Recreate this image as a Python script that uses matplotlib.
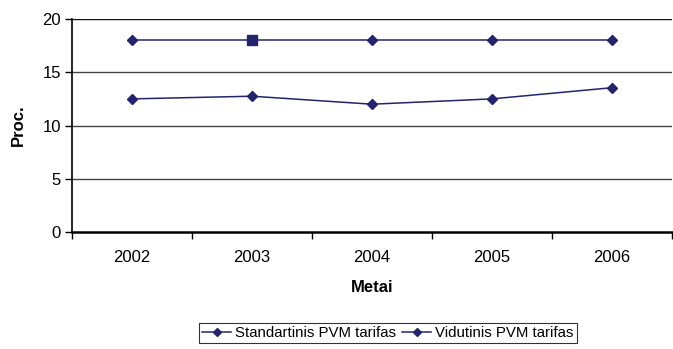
import matplotlib

matplotlib.use("Agg")
import matplotlib.pyplot as plt
import numpy as np

years = ["2002", "2003", "2004", "2005", "2006"]
standartinis = [18, 18, 18, 18, 18]
vidutinis = [12.5, 12.75, 12.0, 12.5, 13.55]
y_ticks = [0, 5, 10, 15, 20]

navy = "#24246e"

plt.rcParams["font.family"] = ["Liberation Sans", "DejaVu Sans"]

fig = plt.figure(figsize=(6.73, 3.49), dpi=100)
ax = fig.add_axes([72 / 673, 1 - 232 / 349, 600 / 673, 213 / 349])

x = np.arange(len(years))
ax.plot(x, standartinis, color=navy, lw=1.1, marker="D", ms=5.5,
        label="Standartinis PVM tarifas", zorder=3)
# the 2003 point of the standard rate is drawn as a square
ax.plot(x[1], standartinis[1], color=navy, marker="s", ms=7, lw=0, zorder=4)
ax.plot(x, vidutinis, color=navy, lw=1.1, marker="D", ms=5.5,
        label="Vidutinis PVM tarifas", zorder=3)

ax.set_xlim(-0.5, len(years) - 0.5)
ax.set_ylim(0, 20)
ax.set_yticks(y_ticks)
ax.set_yticklabels([str(v) for v in y_ticks], fontsize=12)
ax.set_xticks(x)
ax.set_xticklabels(years, fontsize=12)
ax.set_xticks(np.arange(-0.5, len(years)), minor=True)
ax.tick_params(axis="x", which="major", length=0, pad=13)
ax.tick_params(axis="x", which="minor", length=5, width=1, direction="out")
ax.tick_params(axis="y", length=5, width=1, direction="out", pad=3)

for v in y_ticks[1:]:
    ax.axhline(v, color="#444444" if v < 20 else "#111111", lw=1, zorder=1)

for side in ("top", "right"):
    ax.spines[side].set_visible(False)
ax.spines["left"].set_linewidth(1.2)
ax.spines["bottom"].set_linewidth(1.8)

ax.set_ylabel("Proc.", fontsize=12, fontweight="bold", labelpad=12)
ax.set_xlabel("Metai", fontsize=12, fontweight="bold", labelpad=11)

leg = fig.legend(loc="center", bbox_to_anchor=(388 / 673, 1 - 333 / 349),
                 ncol=2, fontsize=10.8, frameon=True, fancybox=False,
                 edgecolor="black", handlelength=1.9, handletextpad=0.3,
                 columnspacing=0.4, borderpad=0.2, markerscale=0.8)
leg.get_frame().set_linewidth(0.8)

fig.savefig("out.png", dpi=100)
